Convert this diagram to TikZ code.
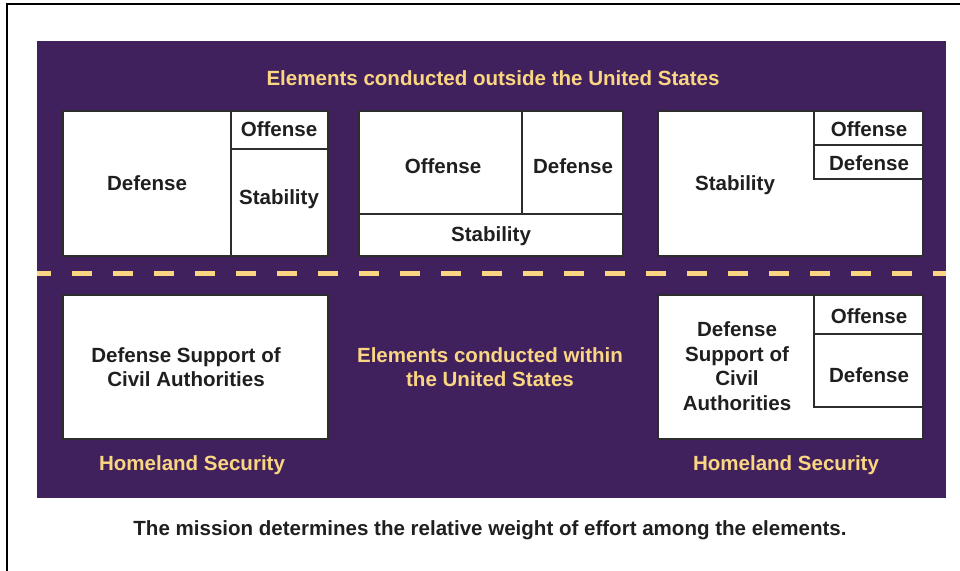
\documentclass[tikz,border=0pt]{standalone}
\usepackage{fontspec}
\setmainfont{Liberation Sans}
\definecolor{navypurple}{RGB}{65,33,93}
\definecolor{sand}{RGB}{250,214,130}
\definecolor{edge}{RGB}{45,45,45}
\tikzset{
  panel/.style={draw=edge, line width=1.5pt, fill=white},
  part/.style={draw=edge, line width=1.5pt},
  word/.style={font=\fontsize{15.4}{18.4}\selectfont\bfseries, text=black!88, align=center, inner sep=0pt},
  banner/.style={font=\fontsize{15.4}{18.4}\selectfont\bfseries, text=sand, align=center, inner sep=0pt},
}
\begin{document}
\begin{tikzpicture}[x=0.75pt, y=-0.75pt]
  \useasboundingbox (0,0) rectangle (960,571);
  \draw [line width=1.6pt] (7,571) -- (7,4) -- (960,4);
  \fill [navypurple] (37,41) rectangle (946,498);
  \node [banner] (outside) at (493,78) {Elements conducted outside the United States};
  % outside the United States
  \draw [panel] (63,111) rectangle (328,256);
  \draw [part] (231,111) -- (231,256);
  \draw [part] (231,149) -- (328,149);
  \node [word] (defA) at (147,183) {Defense};
  \node [word] (offA) at (279,129) {Offense};
  \node [word] (stabA) at (279,199) {Stability};
  \draw [panel] (359,111) rectangle (623,256);
  \draw [part] (359,214) -- (623,214);
  \draw [part] (522,111) -- (522,214);
  \node [word] (offB) at (443,166) {Offense};
  \node [word] (defB) at (573,166) {Defense};
  \node [word] (stabB) at (491,236) {Stability};
  \draw [panel] (658,111) rectangle (923,256);
  \draw [part] (814,111) -- (814,179) -- (923,179);
  \draw [part] (814,145) -- (923,145);
  \node [word] (stabC) at (735,185) {Stability};
  \node [word] (offC) at (869,129) {Offense};
  \node [word] (defC) at (869,163) {Defense};
  % border line
  \draw [sand, line width=3.75pt, dash pattern=on 15pt off 15.75pt, dash phase=4.5pt] (37,273.5) -- (946,273.5);
  % within the United States
  \draw [panel] (63,295) rectangle (328,439);
  \node [word] (dsca) at (186,367) {Defense Support of\\Civil Authorities};
  \node [banner] (within) at (490,367) {Elements conducted within\\the United States};
  \draw [panel] (658,295) rectangle (923,439);
  \draw [part] (814,295) -- (814,407) -- (923,407);
  \draw [part] (814,334) -- (923,334);
  \node [word] (dscb) at (737,366) {Defense\\Support of\\Civil\\Authorities};
  \node [word] (offD) at (869,316) {Offense};
  \node [word] (defD) at (869,375) {Defense};
  \node [banner] (homeA) at (192,465) {Homeland Security};
  \node [banner] (homeB) at (786,465) {Homeland Security};
  \node [word] (mission) at (490,530) {The mission determines the relative weight of effort among the elements.};
\end{tikzpicture}
\end{document}
